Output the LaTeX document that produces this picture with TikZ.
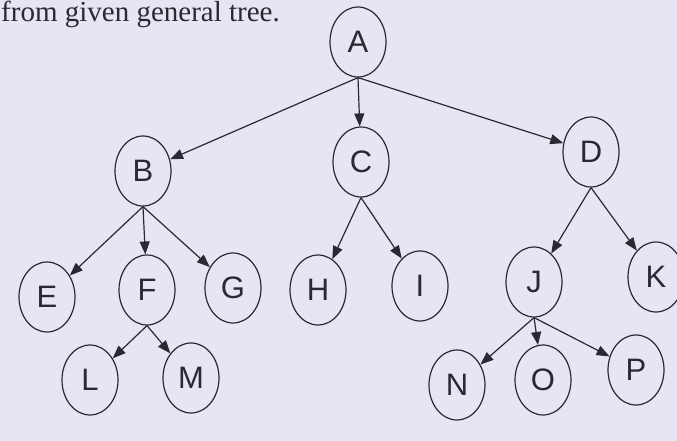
\documentclass[tikz,border=0pt]{standalone}
\usepackage{fontspec}
\setmainfont{Liberation Serif}
\newfontfamily\lab{Liberation Sans}
\usetikzlibrary{shapes.geometric,arrows.meta}
\definecolor{paper}{HTML}{E7E5F3}
\definecolor{ink}{HTML}{2A2830}
\begin{document}
\begin{tikzpicture}[x=1pt,y=-1pt,
  tn/.style={ellipse, draw=ink, line width=1.2pt, minimum width=56pt, minimum height=70pt, inner sep=0pt, font=\lab\fontsize{31}{31}\selectfont, text=ink},
  ed/.style={draw=ink, line width=1.2pt, -{Triangle[length=13pt,width=10pt]}}]
\fill[paper] (0,0) rectangle (677,441);
\useasboundingbox (0,0) rectangle (677,441);
\node[anchor=base west, inner sep=0pt, text=ink, font=\fontsize{29}{29}\selectfont] (title) at (1,22) {from given general tree.};
\node[tn] (A) at (358,42) {A};
\node[tn] (B) at (143,171) {B};
\node[tn] (C) at (361,162) {C};
\node[tn] (D) at (591,152) {D};
\node[tn] (E) at (47,297) {E};
\node[tn] (F) at (147,290) {F};
\node[tn] (G) at (233,288) {G};
\node[tn] (H) at (318,290) {H};
\node[tn] (I) at (420,286) {I};
\node[tn] (J) at (534,282) {J};
\node[tn] (K) at (656,277) {K};
\node[tn] (L) at (90,380) {L};
\node[tn] (M) at (191,378) {M};
\node[tn] (N) at (457,385) {N};
\node[tn] (O) at (543,380) {O};
\node[tn] (P) at (636,370) {P};
\foreach \p/\c in {A/B,A/C,A/D,B/E,B/F,B/G,C/H,C/I,D/J,D/K,F/L,F/M,J/N,J/O,J/P}
  \draw[ed] (\p.south) -- (\c);
\end{tikzpicture}
\end{document}
